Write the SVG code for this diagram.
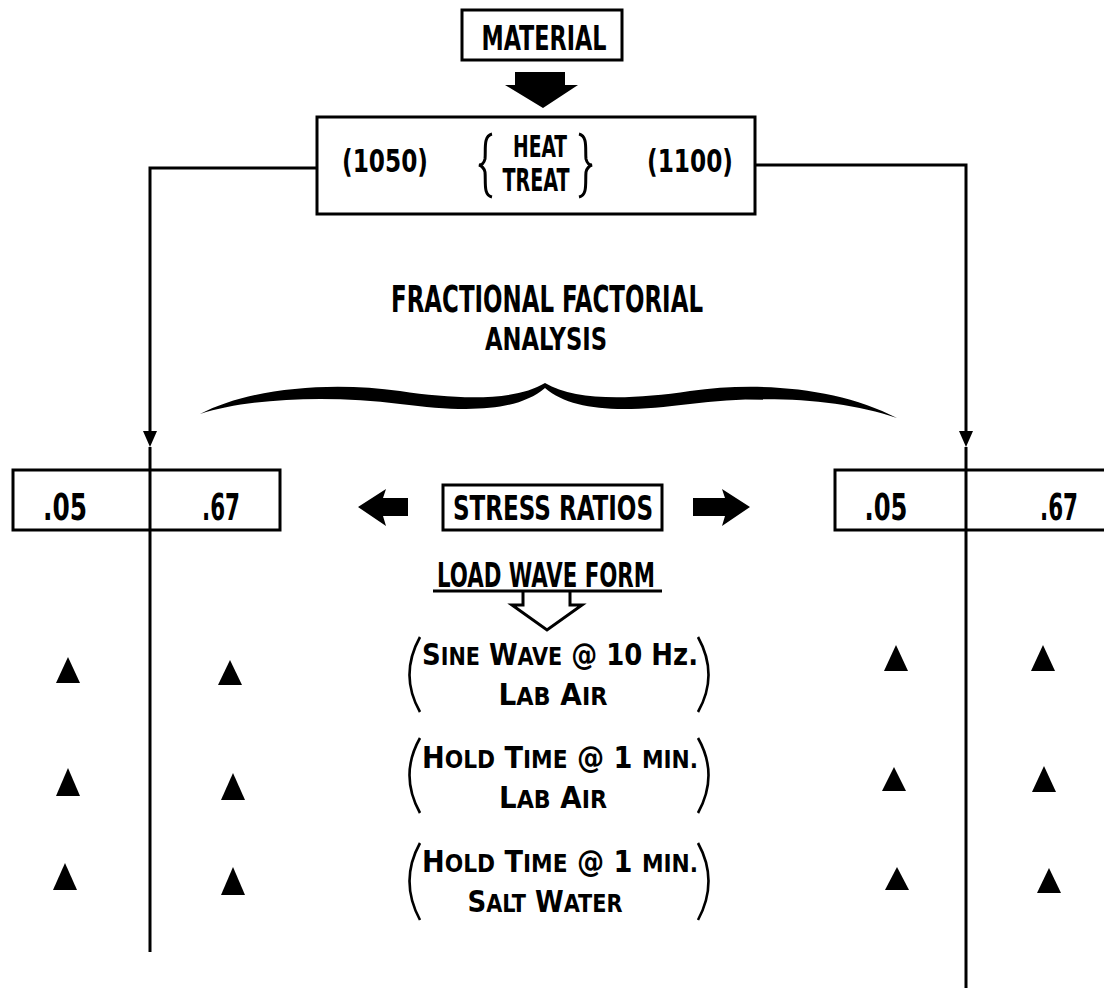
<svg xmlns="http://www.w3.org/2000/svg" width="1104" height="988" viewBox="0 0 1104 988">
<style>
.t{font-family:"DejaVu Sans Condensed","Liberation Sans Narrow","Liberation Sans",sans-serif;font-weight:bold;fill:#000;text-anchor:middle}
.s{font-size:24px}
.box{fill:none;stroke:#000;stroke-width:3}
.ln{fill:none;stroke:#000;stroke-width:3}
.pr{fill:none;stroke:#000;stroke-width:2.6}
.fill{fill:#000;stroke:none}
</style>
<rect width="1104" height="988" fill="#fff"/>

<g id="connectors">
<path class="ln" d="M317,168 L150,168 L150,432"/>
<path class="fill" d="M143,431 L157,431 L150,447 Z"/>
<line class="ln" x1="150" y1="447" x2="150" y2="952"/>
<path class="ln" d="M755,165 L966,165 L966,432"/>
<path class="fill" d="M959,431 L973,431 L966,447 Z"/>
<line class="ln" x1="966" y1="447" x2="966" y2="988"/>
<path id="arrow-material" class="fill" d="M515,72 L565,72 L565,85 L578,85 L543,108 L505,85 L515,85 Z"/>
<path id="arrow-left" class="fill" d="M358,507 L386,489 L383,498 L408,498 L408,516 L383,516 L386,526 Z"/>
<path id="arrow-right" class="fill" d="M750,507 L722,489 L725,498 L693,498 L693,516 L725,516 L722,526 Z"/>
<path id="arrow-load" d="M523,591 L523,605 L512,605 L547,630 L582,605 L570,605 L570,591" fill="#fff" stroke="#000" stroke-width="3" stroke-linejoin="miter"/>
</g>

<g id="material">
<rect class="box" x="462" y="10" width="160" height="50"/>
<text class="t" x="544" y="50" font-size="34" textLength="125" lengthAdjust="spacingAndGlyphs">MATERIAL</text>
</g>

<g id="heat-treat">
<rect class="box" x="317" y="117" width="438" height="97"/>
<text class="t" x="385" y="172" font-size="32" textLength="86" lengthAdjust="spacingAndGlyphs">(1050)</text>
<text class="t" x="540" y="157" font-size="30" textLength="54" lengthAdjust="spacingAndGlyphs">HEAT</text>
<text class="t" x="536" y="191" font-size="32" textLength="67" lengthAdjust="spacingAndGlyphs">TREAT</text>
<text class="t" x="690" y="172" font-size="32" textLength="86" lengthAdjust="spacingAndGlyphs">(1100)</text>
<path class="ln" stroke-width="3.5" d="M492,134 C483,136 486,150 485,159 C484,163 482,165 479,165 C482,166 484,168 485,172 C486,182 483,195 492,197"/>
<path class="ln" stroke-width="3.5" d="M579,134 C588,136 585,150 586,159 C587,163 589,165 592,165 C589,166 587,168 586,172 C585,182 588,195 579,197"/>
</g>

<g id="fractional">
<text class="t" x="547" y="312" font-size="37" textLength="312" lengthAdjust="spacingAndGlyphs">FRACTIONAL FACTORIAL</text>
<text class="t" x="546" y="350" font-size="32" textLength="122" lengthAdjust="spacingAndGlyphs">ANALYSIS</text>
<path class="fill" d="M200,414 C250,388 330,381 400,391 C460,400 515,401 545,383 C575,401 630,400 690,391 C760,381 840,388 897,418 C840,398 760,395 690,404 C620,413 572,411 545,388 C518,411 470,413 400,404 C330,395 250,398 200,414 Z"/>
</g>

<g id="ratios-left">
<rect class="box" x="13" y="470" width="267" height="60"/>
<text class="t" x="65" y="520" font-size="38" textLength="44" lengthAdjust="spacingAndGlyphs">.05</text>
<text class="t" x="221" y="520" font-size="38" textLength="38" lengthAdjust="spacingAndGlyphs">.67</text>
</g>

<g id="ratios-right">
<rect class="box" x="835" y="470" width="300" height="60"/>
<text class="t" x="886" y="520" font-size="38" textLength="43" lengthAdjust="spacingAndGlyphs">.05</text>
<text class="t" x="1059" y="520" font-size="38" textLength="38" lengthAdjust="spacingAndGlyphs">.67</text>
</g>

<g id="stress-ratios">
<rect class="box" x="443" y="485" width="219" height="45"/>
<text class="t" x="553" y="520" font-size="34" textLength="200" lengthAdjust="spacingAndGlyphs">STRESS RATIOS</text>
</g>

<g id="load-wave-form">
<text class="t" x="546" y="587" font-size="33" textLength="218" lengthAdjust="spacingAndGlyphs">LOAD WAVE FORM</text>
<line class="ln" x1="433" y1="591" x2="662" y2="591"/>
</g>

<g id="cond-1">
<path class="pr" d="M420,637 Q399,675 420,712"/>
<path class="pr" d="M698,637 Q719,675 698,712"/>
<text class="t" x="560" y="665" font-size="30" textLength="276" lengthAdjust="spacingAndGlyphs">S<tspan class="s">INE</tspan> W<tspan class="s">AVE</tspan> @ 10 Hz.</text>
<text class="t" x="553" y="705" font-size="30" textLength="109" lengthAdjust="spacingAndGlyphs">L<tspan class="s">AB</tspan> A<tspan class="s">IR</tspan></text>
</g>

<g id="cond-2">
<path class="pr" d="M420,738 Q399,775 420,813"/>
<path class="pr" d="M698,738 Q719,775 698,813"/>
<text class="t" x="560" y="768" font-size="30" textLength="276" lengthAdjust="spacingAndGlyphs">H<tspan class="s">OLD</tspan> T<tspan class="s">IME</tspan> @ 1 <tspan class="s">MIN.</tspan></text>
<text class="t" x="553" y="808" font-size="30" textLength="108" lengthAdjust="spacingAndGlyphs">L<tspan class="s">AB</tspan> A<tspan class="s">IR</tspan></text>
</g>

<g id="cond-3">
<path class="pr" d="M420,843 Q399,881 420,920"/>
<path class="pr" d="M698,843 Q719,881 698,920"/>
<text class="t" x="560" y="872" font-size="30" textLength="276" lengthAdjust="spacingAndGlyphs">H<tspan class="s">OLD</tspan> T<tspan class="s">IME</tspan> @ 1 <tspan class="s">MIN.</tspan></text>
<text class="t" x="545" y="912" font-size="30" textLength="155" lengthAdjust="spacingAndGlyphs">S<tspan class="s">ALT</tspan> W<tspan class="s">ATER</tspan></text>
</g>

<g id="markers">
<path class="fill" d="M68,657 L80,683 L56,683 Z"/>
<path class="fill" d="M230,660 L242,685 L218,685 Z"/>
<path class="fill" d="M68,768 L80,796 L56,796 Z"/>
<path class="fill" d="M233,773 L245,800 L221,800 Z"/>
<path class="fill" d="M65,863 L77,890 L53,890 Z"/>
<path class="fill" d="M233,867 L245,895 L221,895 Z"/>
<path class="fill" d="M896,645 L908,671 L884,671 Z"/>
<path class="fill" d="M1043,645 L1055,671 L1031,671 Z"/>
<path class="fill" d="M894,767 L906,791 L882,791 Z"/>
<path class="fill" d="M1044,766 L1056,792 L1032,792 Z"/>
<path class="fill" d="M897,867 L909,890 L885,890 Z"/>
<path class="fill" d="M1049,868 L1061,893 L1037,893 Z"/>
</g>
</svg>
